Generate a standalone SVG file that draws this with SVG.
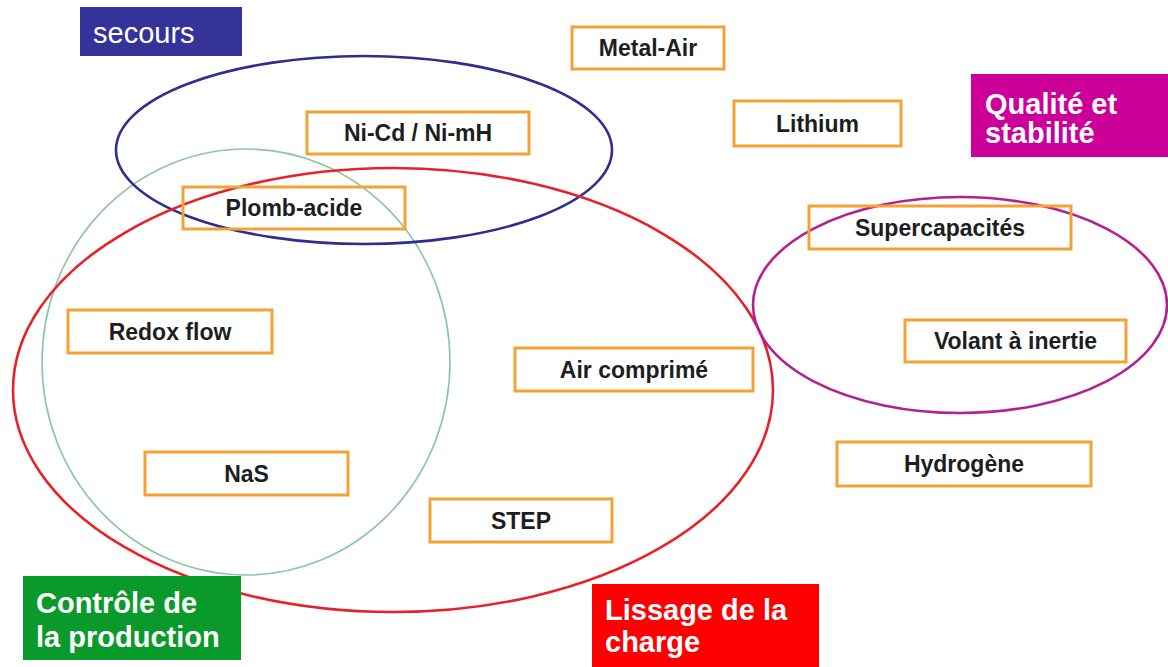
<svg xmlns="http://www.w3.org/2000/svg" width="1168" height="667" viewBox="0 0 1168 667">
  <style>
    .bg { fill: #ffffff; }
    .node rect { fill: none; stroke: #F4A236; stroke-width: 3; }
    .node text { font-family: "Liberation Sans", Arial, sans-serif; font-weight: bold; font-size: 23px; fill: #1e1e22; text-anchor: middle; }
    .tag text { font-family: "Liberation Sans", Arial, sans-serif; font-weight: bold; font-size: 29px; fill: #ffffff; }
    .set { fill: none; }
  </style>

  <rect class="bg" x="0" y="0" width="1168" height="667"/>

  <!-- application domains: ellipses grouping the technologies -->
  <g id="connectors">
    <ellipse class="set" cx="246" cy="362" rx="204" ry="213" stroke="#8CC7A0" stroke-width="1.6"/>
    <ellipse class="set" cx="364" cy="150" rx="248" ry="94" stroke="#2E2E8F" stroke-width="2.6"/>
    <ellipse class="set" cx="393" cy="390" rx="380" ry="222" stroke="#E8202A" stroke-width="2.6"/>
    <ellipse class="set" cx="960" cy="305" rx="207" ry="108" stroke="#B4208F" stroke-width="2.6"/>
  </g>

  <!-- domain labels -->
  <g id="tag-secours" class="tag">
    <rect x="80" y="7" width="162" height="49" fill="#333399"/>
    <text x="93" y="43" style="font-weight:normal">secours</text>
  </g>
  <g id="tag-qualite" class="tag">
    <rect x="971" y="74" width="197" height="83" fill="#CC0099"/>
    <text x="985" y="114">Qualité et</text>
    <text x="985" y="143">stabilité</text>
  </g>
  <g id="tag-controle" class="tag">
    <rect x="23" y="576" width="218" height="84" fill="#0A9A2C"/>
    <text x="36" y="613">Contrôle de</text>
    <text x="36" y="647">la production</text>
  </g>
  <g id="tag-lissage" class="tag">
    <rect x="592" y="584" width="227" height="83" fill="#FF0000"/>
    <text x="605" y="620">Lissage de la</text>
    <text x="605" y="652">charge</text>
  </g>

  <!-- storage technologies -->
  <g id="node-metal-air" class="node">
    <rect x="572" y="27" width="152" height="42"/>
    <text x="648" y="56">Metal-Air</text>
  </g>
  <g id="node-lithium" class="node">
    <rect x="734" y="101" width="167" height="45"/>
    <text x="817.5" y="132">Lithium</text>
  </g>
  <g id="node-nicd" class="node">
    <rect x="307" y="112" width="222" height="42"/>
    <text x="418" y="141">Ni-Cd / Ni-mH</text>
  </g>
  <g id="node-plomb" class="node">
    <rect x="183" y="187" width="222" height="42"/>
    <text x="294" y="216">Plomb-acide</text>
  </g>
  <g id="node-supercap" class="node">
    <rect x="809" y="206" width="262" height="43"/>
    <text x="940" y="236">Supercapacités</text>
  </g>
  <g id="node-redox" class="node">
    <rect x="68" y="310" width="204" height="43"/>
    <text x="170" y="340">Redox flow</text>
  </g>
  <g id="node-volant" class="node">
    <rect x="905" y="320" width="221" height="42"/>
    <text x="1015.5" y="349">Volant à inertie</text>
  </g>
  <g id="node-air" class="node">
    <rect x="515" y="348" width="238" height="43"/>
    <text x="634" y="378">Air comprimé</text>
  </g>
  <g id="node-hydrogene" class="node">
    <rect x="837" y="442" width="254" height="44"/>
    <text x="964" y="472">Hydrogène</text>
  </g>
  <g id="node-nas" class="node">
    <rect x="145" y="452" width="203" height="43"/>
    <text x="246.5" y="482">NaS</text>
  </g>
  <g id="node-step" class="node">
    <rect x="430" y="499" width="182" height="43"/>
    <text x="521" y="529">STEP</text>
  </g>
</svg>
